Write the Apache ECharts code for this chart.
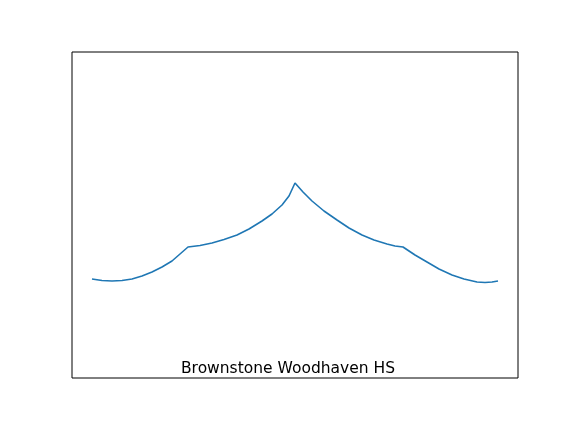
<!DOCTYPE html>
<html>
<head>
<meta charset="utf-8">
<script src="https://cdn.jsdelivr.net/npm/echarts@6/dist/echarts.min.js"></script>
<style>html,body{margin:0;padding:0;background:#fff}#chart{width:576px;height:432px}</style>
</head>
<body>
<div id="chart"></div>
<script>
// values (x position, height)
var xs = [0, 10, 20, 30, 40, 50, 60, 70, 80, 88, 96, 108, 120, 132, 145, 157, 170, 180, 190, 197, 203, 211, 220, 232, 245, 257, 270, 282, 295, 303, 311, 323, 335, 347, 360, 372, 385, 393, 400, 406];
var ys = [99, 97.5, 97, 97.5, 99, 102, 106, 111, 117, 124, 131, 132.5, 135, 138.5, 143, 149, 157, 164, 173, 182, 195, 186, 177, 167, 158, 150, 143, 138, 134, 132, 131, 123, 116, 109, 103, 99, 96, 95.5, 96, 97];
var titleText = 'Brownstone Woodhaven HS';

var pts = [];
for (var i = 0; i < xs.length; i++) pts.push([xs[i], ys[i]]);

var chart = echarts.init(document.getElementById('chart'));
chart.setOption({
    animation: false,
    graphic: [{
        type: 'text', left: 'center', top: 361, x: 7,
        style: {text: titleText, fill: '#000', fontSize: 15.5, fontFamily: 'DejaVu Sans'}
    }],
    grid: {left: 72, right: 58, top: 52, bottom: 54, show: true, borderColor: '#000', borderWidth: 1},
    xAxis: {type: 'value', min: -20, max: 426, show: false},
    yAxis: {type: 'value', min: 0, max: 326, show: false},
    series: [{
        type: 'line', data: pts, symbol: 'none',
        lineStyle: {color: '#1f77b4', width: 1.6}
    }]
});
</script>
</body>
</html>
